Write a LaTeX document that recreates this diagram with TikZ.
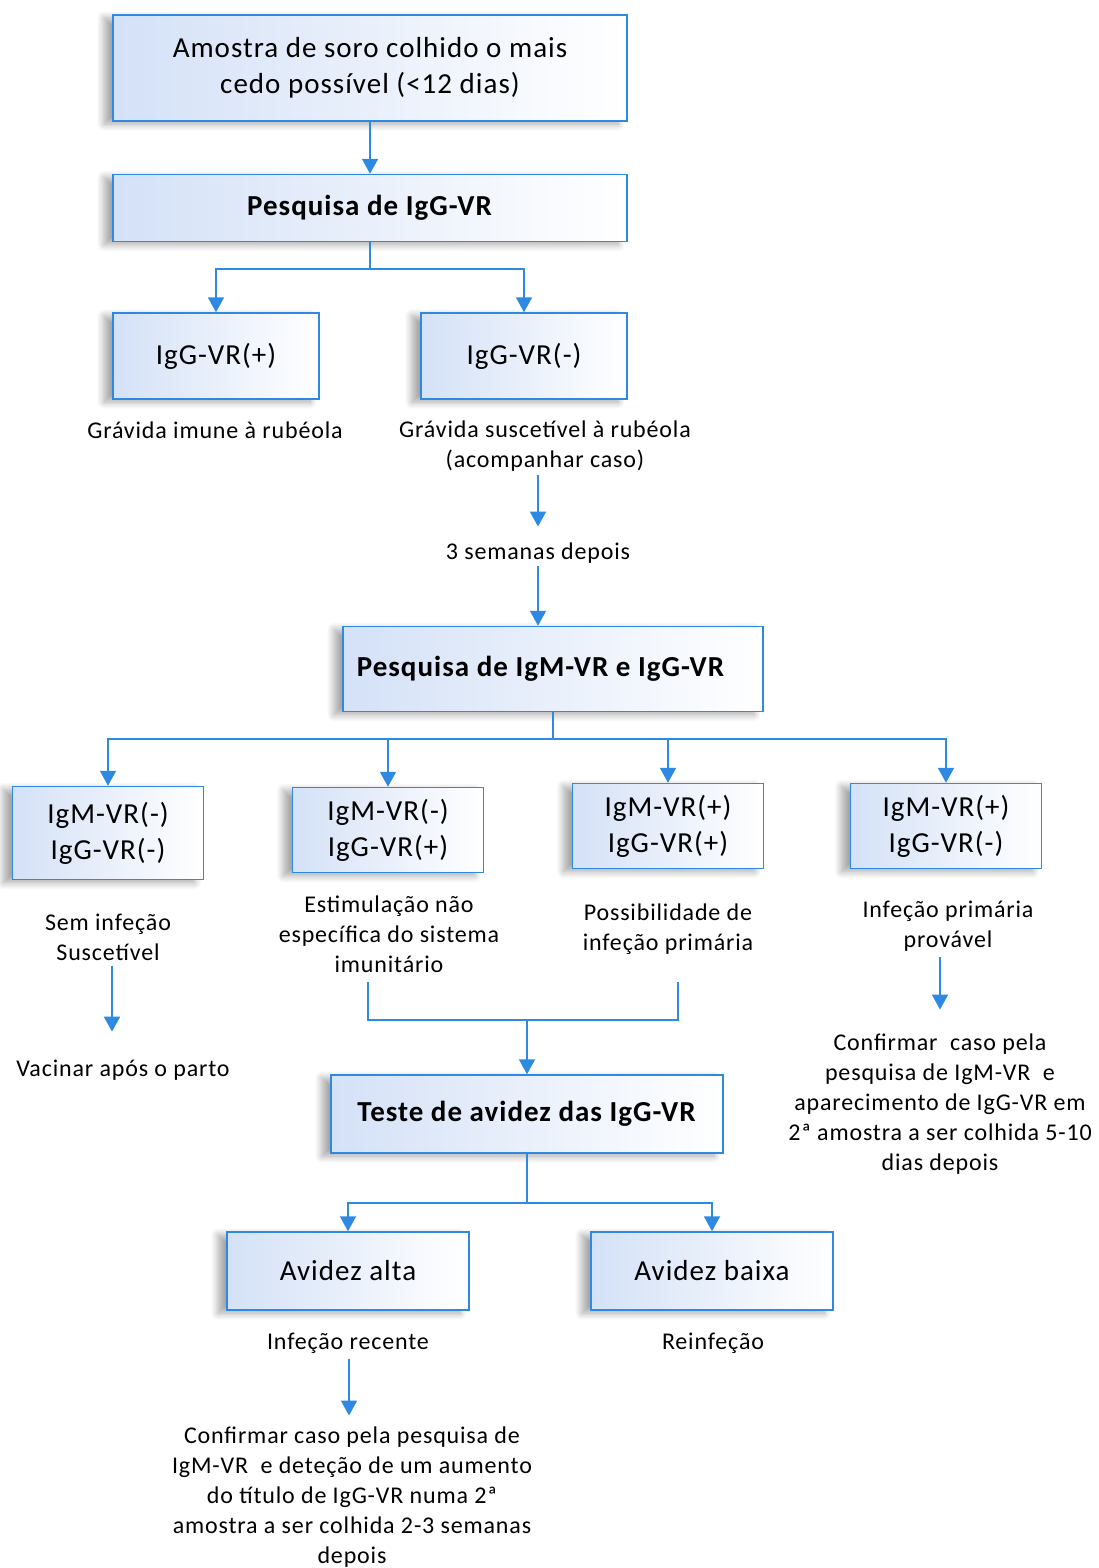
\documentclass[tikz,border=0pt]{standalone}
\usepackage{fontspec}
\setmainfont{Carlito}[LetterSpace=3.5]
\usetikzlibrary{arrows.meta, shadows.blur}
\definecolor{flowblue}{RGB}{46,137,226}
\definecolor{boxfill}{RGB}{212,225,247}

\begin{document}
\begin{tikzpicture}[x=1pt, y=-1pt, >={Triangle[width=16pt,length=15pt]},
    box/.style={draw=flowblue, line width=1.5pt, left color=boxfill, right color=white,
        blur shadow={shadow xshift=-9pt, shadow yshift=-3pt, shadow blur radius=7pt,
            shadow blur steps=12, shadow opacity=35},
        align=center, inner sep=0pt, font=\fontsize{29}{36}\selectfont},
    note/.style={align=center, inner sep=0pt, font=\fontsize{24}{30}\selectfont},
    arr/.style={->, draw=flowblue, line width=2pt},
    link/.style={draw=flowblue, line width=2pt}]
    \useasboundingbox (0,0) rectangle (1099,1568);

    % first part
    \node[box, minimum width=514pt, minimum height=106pt] (sample) at (370,68)
        {Amostra de soro colhido o mais\\cedo possível (<12 dias)};
    \node[box, minimum width=514pt, minimum height=67pt] (igg) at (370,208)
        {\textbf{Pesquisa de IgG-VR}};
    \node[box, minimum width=206pt, minimum height=86pt] (iggpos) at (216,356) {IgG-VR(+)};
    \node[box, minimum width=206pt, minimum height=86pt] (iggneg) at (524,356) {IgG-VR(-)};
    \node[note] (imune) at (215,430) {Grávida imune à rubéola};
    \node[note] (susc) at (545,446) {Grávida suscetível à rubéola\\(acompanhar caso)};
    \node[note] (weeks) at (538,553) {3 semanas depois};

    \coordinate (j1) at (370,269);
    \draw[arr] (sample) -- (igg);
    \draw[link] (igg.south) -- (j1);
    \draw[arr] (j1) -| (iggpos.north);
    \draw[arr] (j1) -| (iggneg.north);
    \draw[arr, shorten <=4pt, shorten >=16pt] (susc.south -| weeks.north) -- (weeks.north);

    % second part
    \node[box, minimum width=420pt, minimum height=85pt] (igm) at (553,669)
        {\textbf{Pesquisa de IgM-VR e IgG-VR}\hspace*{24pt}};
    \node[box, minimum width=191pt, minimum height=93pt] (mnn) at (108,833) {IgM-VR(-)\\IgG-VR(-)};
    \node[box, minimum width=191pt, minimum height=85pt] (mnp) at (388,830) {IgM-VR(-)\\IgG-VR(+)};
    \node[box, minimum width=191pt, minimum height=85pt] (mpp) at (668,826) {IgM-VR(+)\\IgG-VR(+)};
    \node[box, minimum width=191pt, minimum height=85pt] (mpn) at (946,826) {IgM-VR(+)\\IgG-VR(-)};
    \node[note] (noinf) at (108,937) {Sem infeção\\Suscetível};
    \node[note] (nonspec) at (389,934) {Estimulação não\\específica do sistema\\imunitário};
    \node[note] (possib) at (668,929) {Possibilidade de\\infeção primária};
    \node[note] (prim) at (948,926) {Infeção primária\\provável};
    \node[note] (vacc) at (123,1070) {Vacinar após o parto};
    \node[note] (confirm1) at (940,1104)
        {Confirmar~ caso pela\\pesquisa de IgM-VR~ e\\aparecimento de IgG-VR em\\2ª amostra a ser colhida 5-10\\dias depois};

    \coordinate (j2) at (553,739);
    \draw[arr, shorten <=3pt] (weeks.south) -- (weeks.south |- igm.north);
    \draw[link] (igm.south) -- (j2);
    \foreach \b in {mnn, mnp, mpp, mpn}
        \draw[arr] (j2) -| (\b.north);
    \draw[arr, shorten <=5pt, shorten >=28pt] ([xshift=4pt]noinf.south) -- ([xshift=4pt]noinf.south |- vacc.north);
    \draw[arr, shorten <=6pt, shorten >=24pt] (prim.south -| confirm1.north) -- (confirm1.north);

    % third part
    \node[box, minimum width=392pt, minimum height=78pt] (avid) at (527,1114)
        {\textbf{Teste de avidez das IgG-VR}};
    \node[box, minimum width=242pt, minimum height=78pt] (high) at (348,1271) {Avidez alta};
    \node[box, minimum width=242pt, minimum height=78pt] (low) at (712,1271) {Avidez baixa};
    \node[note] (recent) at (348,1343) {Infeção recente};
    \node[note] (reinf) at (713,1343) {Reinfeção};
    \node[note] (confirm2) at (352,1497)
        {Confirmar caso pela pesquisa de\\IgM-VR~ e deteção de um aumento\\do título de IgG-VR numa 2ª\\amostra a ser colhida 2-3 semanas\\depois};

    \coordinate (jl) at (368,982);
    \coordinate (jr) at (678,982);
    \coordinate (j3) at (527,1020);
    \coordinate (j4) at (527,1203);
    \draw[link] (jl) |- (j3) -| (jr);
    \draw[arr] (j3) -- (avid.north);
    \draw[link] (avid.south) -- (j4);
    \draw[arr] (j4) -| (high.north);
    \draw[arr] (j4) -| (low.north);
    \draw[arr, shorten <=6pt, shorten >=11pt] ([xshift=1pt]recent.south) -- ([xshift=1pt]recent.south |- confirm2.north);
\end{tikzpicture}
\end{document}
